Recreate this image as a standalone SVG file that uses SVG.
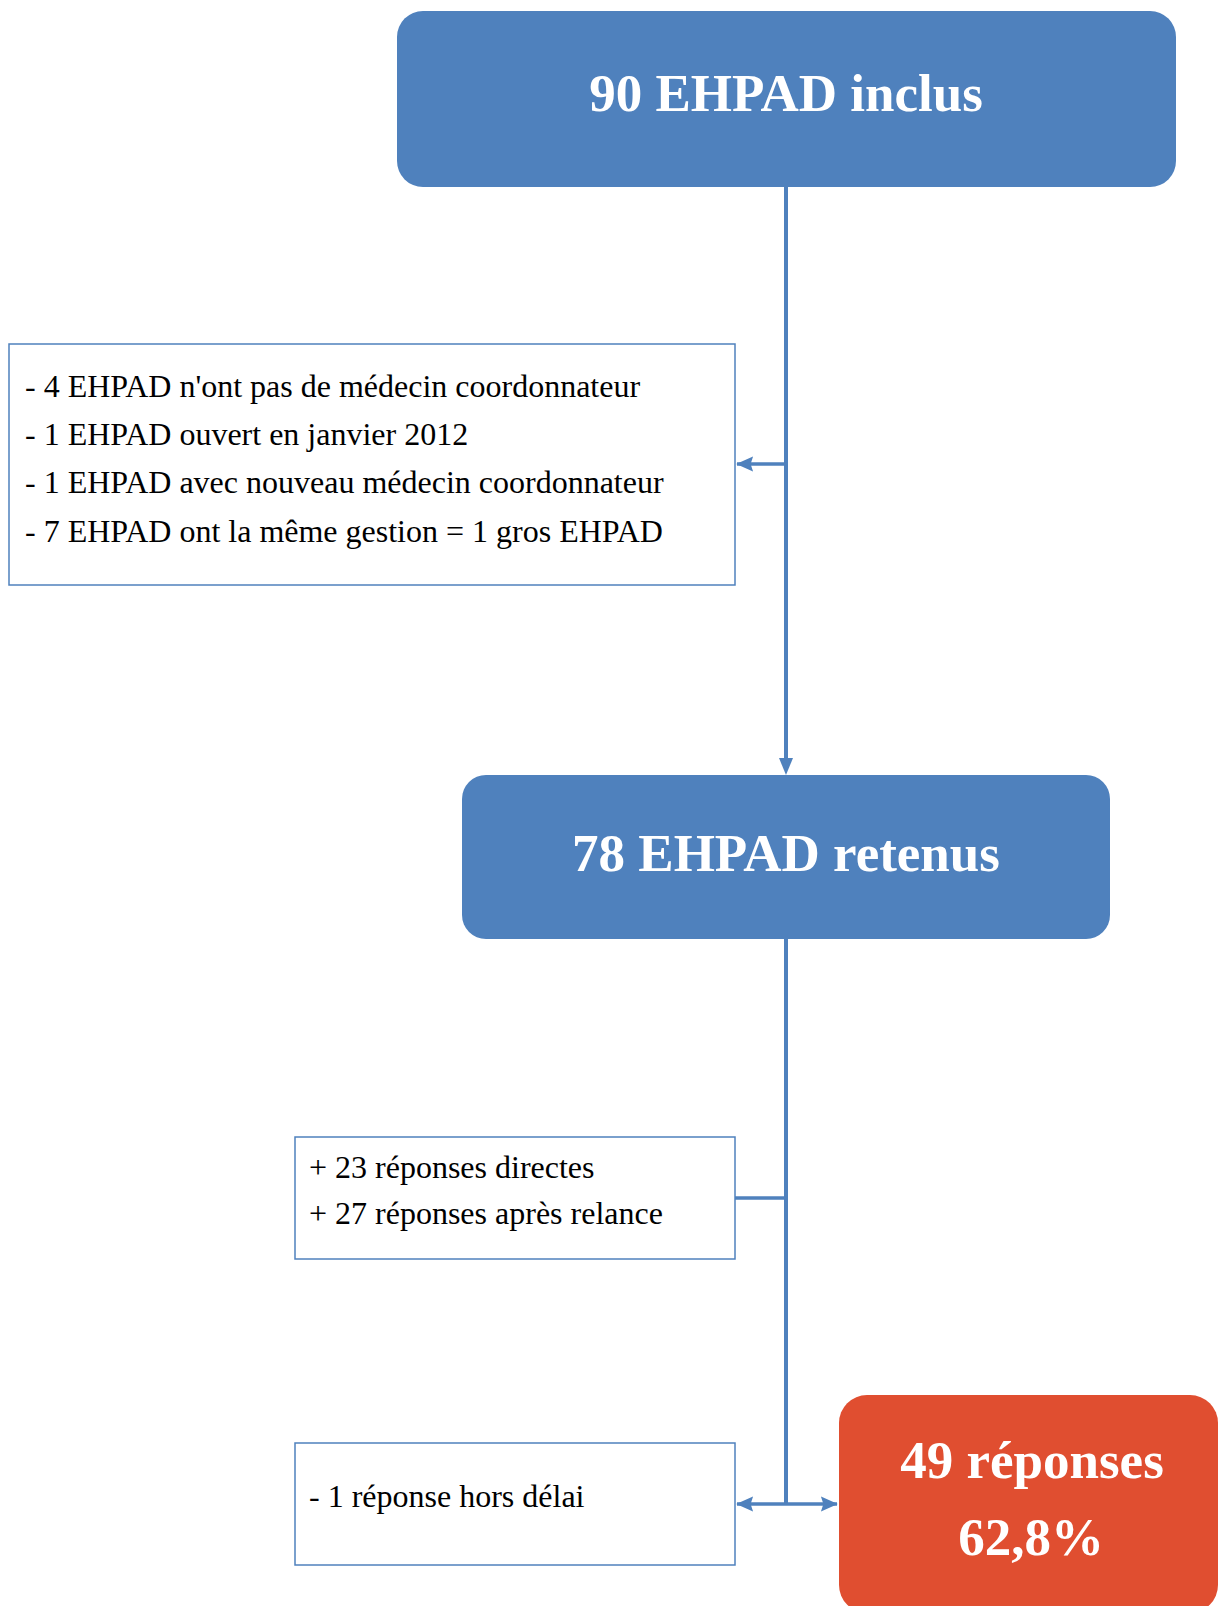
<svg xmlns="http://www.w3.org/2000/svg" width="1218" height="1606" viewBox="0 0 1218 1606">
<style>
.blue{fill:#4F81BD}
.red{fill:#E04E30}
.box{fill:#FFFFFF;stroke:#4F81BD;stroke-width:1.5}
.t{font-family:"Liberation Serif","Times New Roman",serif;font-size:32px;fill:#000}
.h{font-family:"Liberation Serif","Times New Roman",serif;font-size:53px;font-weight:bold;fill:#FFFFFF;text-anchor:middle}
.ln{stroke:#4F81BD;stroke-width:4;fill:none}
.ln2{stroke:#4F81BD;stroke-width:3.5;fill:none}
</style>
<defs>
<marker id="ah" viewBox="0 0 10 10" refX="9.5" refY="5" markerWidth="17" markerHeight="17" markerUnits="userSpaceOnUse" orient="auto">
<path d="M0,0.5 L10,5 L0,9.5 L1.5,5 Z" fill="#4F81BD"/>
</marker>
<marker id="ahs" viewBox="0 0 10 10" refX="9.5" refY="5" markerWidth="17" markerHeight="17" markerUnits="userSpaceOnUse" orient="auto-start-reverse">
<path d="M0,0.5 L10,5 L0,9.5 L1.5,5 Z" fill="#4F81BD"/>
</marker>
</defs>
<g id="connectors">
<path d="M786,187 L786,758" class="ln"/>
<path d="M779,758 L793,758 L786,775 Z" fill="#4F81BD"/>
<line class="ln2" x1="786" y1="464" x2="737" y2="464" marker-end="url(#ah)"/>
<line class="ln" x1="786" y1="939" x2="786" y2="1504"/>
<line class="ln2" x1="786" y1="1198" x2="735" y2="1198"/>
<line class="ln2" x1="737" y1="1504" x2="837" y2="1504" marker-start="url(#ahs)" marker-end="url(#ahs)"/>
</g>
<g id="n1">
<rect class="blue" x="397" y="11" width="779" height="176" rx="26"/>
<text class="h" x="786" y="111">90 EHPAD inclus</text>
</g>
<g id="n2">
<rect class="box" x="9" y="344" width="726" height="241"/>
<text class="t" x="25" y="397">- 4 EHPAD n'ont pas de médecin coordonnateur</text>
<text class="t" x="25" y="445">- 1 EHPAD ouvert en janvier 2012</text>
<text class="t" x="25" y="493">- 1 EHPAD avec nouveau médecin coordonnateur</text>
<text class="t" x="25" y="542">- 7 EHPAD ont la même gestion = 1 gros EHPAD</text>
</g>
<g id="n3">
<rect class="blue" x="462" y="775" width="648" height="164" rx="24"/>
<text class="h" x="786" y="871">78 EHPAD retenus</text>
</g>
<g id="n4">
<rect class="box" x="295" y="1137" width="440" height="122"/>
<text class="t" x="309" y="1178">+ 23 réponses directes</text>
<text class="t" x="309" y="1224">+ 27 réponses après relance</text>
</g>
<g id="n5">
<rect class="box" x="295" y="1443" width="440" height="122"/>
<text class="t" x="309" y="1507">- 1 réponse hors délai</text>
</g>
<g id="n6">
<rect class="red" x="839" y="1395" width="379" height="218" rx="28"/>
<text class="h" x="1032" y="1478">49 réponses</text>
<text class="h" x="1031" y="1555">62,8%</text>
</g>
</svg>
